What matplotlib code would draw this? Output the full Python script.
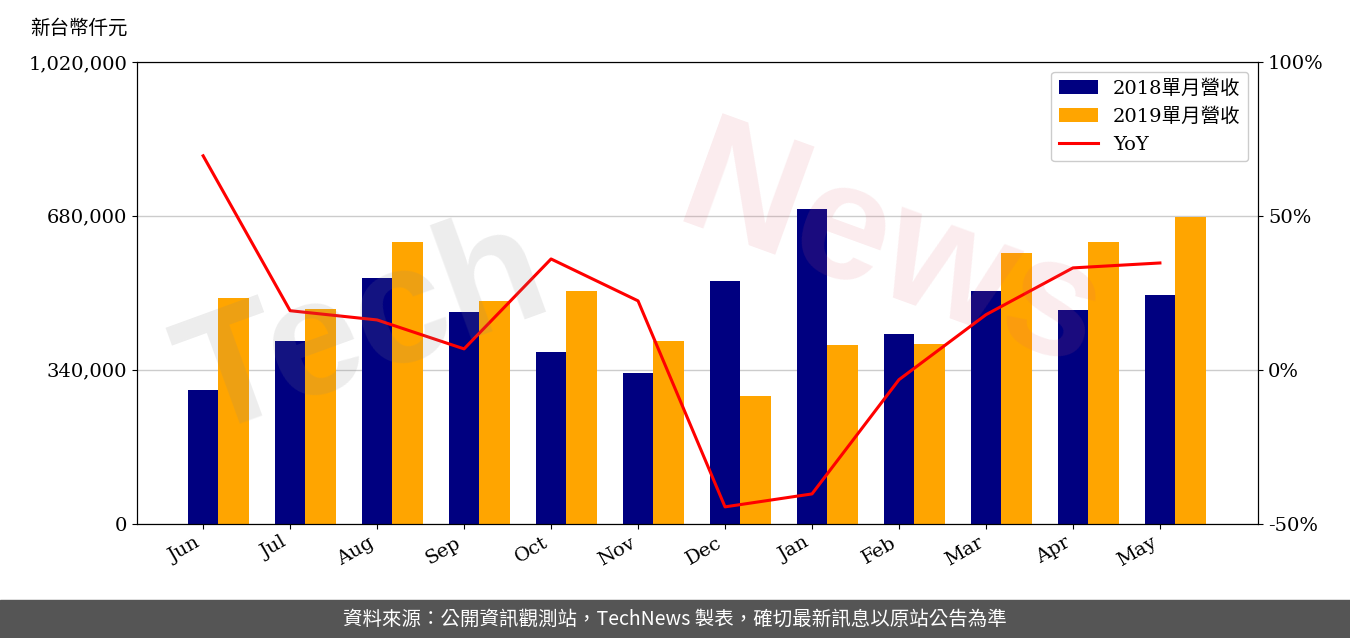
import matplotlib
matplotlib.use('Agg')
import matplotlib.pyplot as plt
import numpy as np
from matplotlib.ticker import FuncFormatter

plt.rcParams['font.family'] = ['DejaVu Serif', 'Noto Sans CJK TC']

months = ['Jun', 'Jul', 'Aug', 'Sep', 'Oct', 'Nov', 'Dec', 'Jan', 'Feb', 'Mar', 'Apr', 'May']
rev_2018 = [296000, 404000, 543000, 468000, 380000, 333000, 537000, 695000, 420000, 514000, 472000, 506000]
rev_2019 = [499000, 475000, 623000, 492000, 514000, 404000, 283000, 395000, 397000, 598000, 623000, 678000]
yoy = [69.5, 19.2, 16.2, 6.8, 36.0, 22.4, -44.5, -40.3, -3.2, 17.9, 33.1, 34.7]

fig = plt.figure(figsize=(13.5, 6.38), dpi=100)
ax = fig.add_axes([0.1015, 0.179, 0.8305, 0.724])
x = np.arange(len(months))
w = 0.35
b1 = ax.bar(x, rev_2018, w, color='#000080', label='2018單月營收')
b2 = ax.bar(x + w, rev_2019, w, color='#FFA500', label='2019單月營收')
ax.set_ylim(0, 1020000)
ax.set_yticks([0, 340000, 680000, 1020000])
ax.yaxis.set_major_formatter(FuncFormatter(lambda v, p: f'{int(v):,}'))
ax.set_xlim(-0.76, 12.13)
ax.set_xticks(x)
ax.set_xticklabels(months, rotation=30, ha='right')
ax.grid(axis='y', color='#cccccc', linewidth=1)
ax.set_axisbelow(True)
ax.tick_params(labelsize=14)

ax2 = ax.twinx()
l, = ax2.plot(x, yoy, color='red', linewidth=2.2, label='YoY')
ax2.set_ylim(-50, 100)
ax2.set_yticks([-50, 0, 50, 100])
ax2.yaxis.set_major_formatter(FuncFormatter(lambda v, p: f'{int(v)}%'))
ax2.tick_params(labelsize=14)

ax.legend(handles=[b1, b2, l], loc='upper right', fontsize=14, framealpha=1)

fig.text(0.022, 0.955, '新台幣仟元', fontsize=14, va='center')
# watermark
fig.text(0.27, 0.48, 'Tech', fontsize=120, color='#888888', alpha=0.15,
         rotation=20, ha='center', va='center', family='Liberation Sans',
         weight='bold')
fig.text(0.66, 0.6, 'News', fontsize=120, color='#e06070', alpha=0.12,
         rotation=-20, ha='center', va='center', family='Liberation Sans',
         weight='bold')

fig.patches.append(plt.Rectangle((0, 0), 1, 0.06, transform=fig.transFigure,
                                 color='#555555', zorder=-1))
fig.text(0.5, 0.03, '資料來源：公開資訊觀測站，TechNews 製表，確切最新訊息以原站公告為準',
         color='white', fontsize=14, ha='center', va='center',
         family=['Noto Sans CJK TC'])

fig.savefig('out.png', dpi=100)
